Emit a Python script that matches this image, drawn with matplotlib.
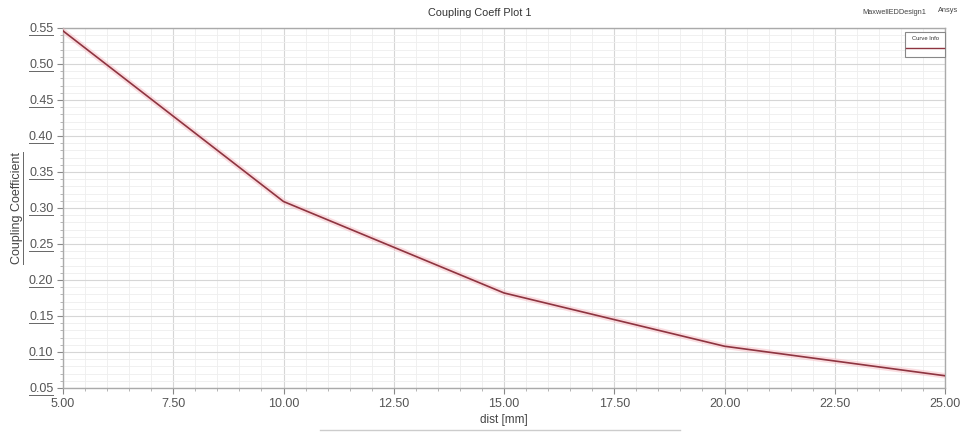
import numpy as np
import matplotlib
matplotlib.use("Agg")
from matplotlib import pyplot as plt
from matplotlib.ticker import MultipleLocator, FormatStrFormatter
from matplotlib.lines import Line2D
from matplotlib.patches import Rectangle

dist_mm = [5.0, 10.0, 15.0, 20.0, 25.0]
coupling = [0.546, 0.309, 0.182, 0.108, 0.067]

title = "Coupling Coeff Plot 1"
design = "MaxwellEDDesign1"
vendor = "Ansys"
legend_label = "Curve Info"

plt.rcParams['font.family'] = ['Liberation Sans', 'DejaVu Sans']

fig = plt.figure(figsize=(9.6, 4.32), dpi=100)
ax = fig.add_axes([63 / 960, 1 - 388 / 432, 882 / 960, 360 / 432])

ax.plot(dist_mm, coupling, color='#f6b4bc', lw=4.0, alpha=0.45,
        solid_joinstyle='round', zorder=3)
ax.plot(dist_mm, coupling, color='#8e3440', lw=1.2, zorder=4)

ax.set_xlim(5, 25)
ax.set_ylim(0.05, 0.55)
ax.xaxis.set_major_locator(MultipleLocator(2.5))
ax.xaxis.set_minor_locator(MultipleLocator(0.5))
ax.yaxis.set_major_locator(MultipleLocator(0.05))
ax.yaxis.set_minor_locator(MultipleLocator(0.01))
ax.xaxis.set_major_formatter(FormatStrFormatter('%.2f'))
ax.yaxis.set_major_formatter(FormatStrFormatter('%.2f'))

ax.grid(which='major', color='#d6d6d6', lw=0.8)
ax.grid(which='minor', color='#eeeeee', lw=0.6)
ax.tick_params(which='major', length=4, color='#888888', labelsize=9,
               labelcolor='#555555', pad=3)
ax.tick_params(which='minor', length=2, color='#aaaaaa')
for s in ax.spines.values():
    s.set_color('#aaaaaa')
    s.set_linewidth(1.0)

ax.set_xlabel('dist [mm]', fontsize=8.5, color='#444444', labelpad=3)
ax.set_ylabel('Coupling Coefficient', fontsize=9, color='#444444', labelpad=4)

fig.text(0.5, 1 - 13 / 432, title, ha='center', va='center',
         fontsize=7.8, color='#333333')
fig.text(862 / 960, 1 - 12 / 432, design, ha='left', va='center',
         fontsize=5.3, color='#444444')
fig.text(938 / 960, 1 - 11 / 432, vendor, ha='left', va='center',
         fontsize=5.3, color='#444444')

# legend box in the HFSS style: label on top, line sample below
ax.add_patch(Rectangle((905 / 960, 1 - 57 / 432), 40 / 960, 25 / 432,
                       transform=fig.transFigure, fill=True, fc='white',
                       ec='#888888', lw=0.8, zorder=6, clip_on=False))
fig.text(925 / 960, 1 - 38 / 432, legend_label, ha='center', va='center',
         fontsize=4.2, color='#333333', zorder=7)
fig.add_artist(Line2D([906 / 960, 944 / 960], [1 - 48 / 432] * 2,
                      color='#8e3440', lw=1.0, transform=fig.transFigure,
                      zorder=7))

# underline the tick labels and y label
fig.canvas.draw()
renderer = fig.canvas.get_renderer()
to_fig = fig.transFigure.inverted()
lo, hi = ax.get_ylim()
for tick in ax.yaxis.get_major_ticks():
    t = tick.label1
    if not (lo - 1e-9 <= tick.get_loc() <= hi + 1e-9) or not t.get_text():
        continue
    bb = t.get_window_extent(renderer)
    (x0, y0), (x1, y1) = to_fig.transform([(bb.x0, bb.y0 + 1),
                                           (bb.x1, bb.y0 + 1)])
    fig.add_artist(Line2D([x0, x1], [y0, y1], color='#666666', lw=0.7,
                          transform=fig.transFigure))

bb = ax.yaxis.label.get_window_extent(renderer)
(x0, y0), (x1, y1) = to_fig.transform([(bb.x1, bb.y0), (bb.x1, bb.y1)])
fig.add_artist(Line2D([x0, x1], [y0, y1], color='#666666', lw=0.7,
                      transform=fig.transFigure))

fig.add_artist(Line2D([320 / 960, 680 / 960], [1 - 430 / 432] * 2,
                      color='#cccccc', lw=1.0, transform=fig.transFigure))

fig.savefig('out.png', dpi=100)
